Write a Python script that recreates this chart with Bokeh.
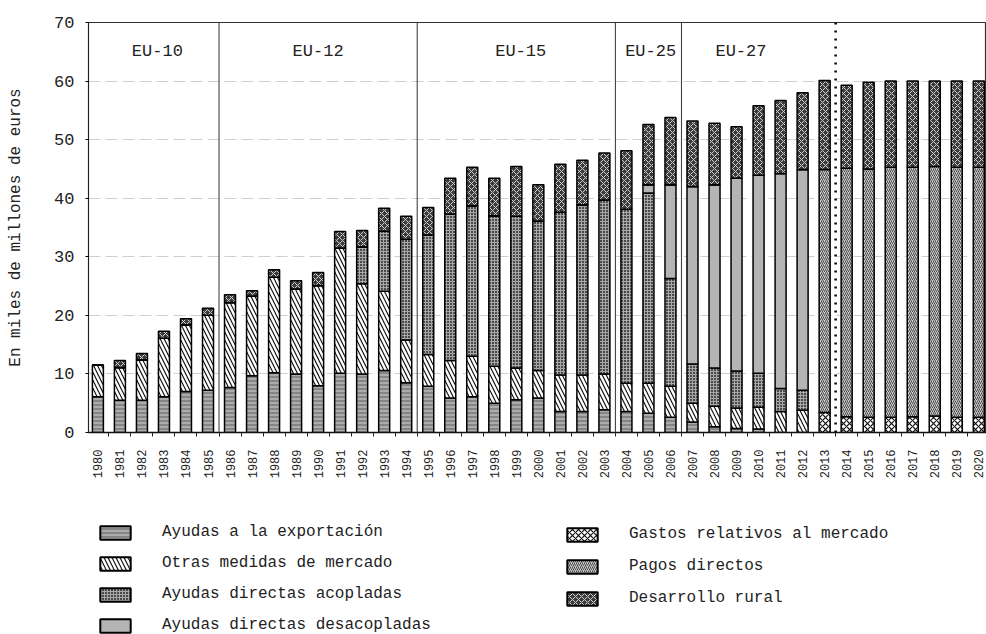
import math
from bokeh.plotting import figure
from bokeh.layouts import column
from bokeh.models import (Range1d, FixedTicker, Span, Legend, LegendItem,
                          ColumnDataSource)
from bokeh.embed import file_html
from bokeh.resources import INLINE
from bokeh.core.properties import value

# ---------------- data ----------------
years = list(range(1980, 2021))

export_aid = [6.1, 5.5, 5.5, 6.1, 7.0, 7.2, 7.7, 9.7, 10.2, 10.0, 8.0, 10.1, 10.0, 10.6,
              8.5, 7.9, 5.9, 6.1, 5.0, 5.6, 5.9, 3.6, 3.6, 3.9, 3.6, 3.3, 2.6, 1.8, 1.0,
              0.7, 0.6, 0, 0, 0, 0, 0, 0, 0, 0, 0, 0]
other_market = [5.4, 5.6, 6.9, 10.0, 11.4, 12.8, 14.5, 13.6, 16.3, 14.5, 17.1, 21.4, 15.4,
                13.5, 7.3, 5.4, 6.4, 6.9, 6.3, 5.4, 4.7, 6.2, 6.2, 6.1, 4.8, 5.1, 5.3, 3.2,
                3.5, 3.5, 3.7, 3.6, 3.8, 0, 0, 0, 0, 0, 0, 0, 0]
coupled = [0, 0, 0, 0, 0, 0, 0, 0, 0, 0, 0, 0, 6.3, 10.3, 17.2, 20.4, 25.0, 25.7, 25.7,
           25.9, 25.5, 27.8, 29.1, 29.7, 29.7, 32.5, 18.4, 6.7, 6.5, 6.3, 5.8, 3.9, 3.4,
           0, 0, 0, 0, 0, 0, 0, 0]
decoupled = [0] * 25 + [1.4, 16.0, 30.3, 31.3, 32.9, 33.8, 36.7, 37.7] + [0] * 8
market_exp = [0] * 33 + [3.4, 2.7, 2.6, 2.6, 2.7, 2.8, 2.6, 2.6]
direct_pay = [0] * 33 + [41.5, 42.4, 42.4, 42.7, 42.6, 42.6, 42.7, 42.7]
rural_dev = [0, 1.2, 1.1, 1.2, 1.0, 1.2, 1.3, 0.9, 1.3, 1.4, 2.2, 2.8, 2.8, 3.9, 3.9, 4.7,
             6.1, 6.6, 6.4, 8.5, 6.2, 8.2, 7.6, 8.0, 10.0, 10.3, 11.5, 11.2, 10.5, 8.8,
             11.9, 12.5, 13.1, 15.2, 14.2, 14.8, 14.7, 14.7, 14.6, 14.7, 14.7]

series_names = ["Ayudas a la exportación", "Otras medidas de mercado",
                "Ayudas directas acopladas", "Ayudas directas desacopladas",
                "Gastos relativos al mercado", "Pagos directos", "Desarrollo rural"]

period_labels = ["EU-10", "EU-12", "EU-15", "EU-25", "EU-27"]
period_label_x = [1982.7, 1990.0, 1999.2, 2005.1, 2009.2]
period_label_y = [65.1] * 5
period_bounds = [1985.5, 1994.5, 2003.5, 2006.5]
projection_start = 2013.5
y_ticks = [0, 10, 20, 30, 40, 50, 60, 70]

FONT = "Liberation Mono"

# ---------------- styles ----------------
keys = ["e", "o", "a", "d", "g", "pd", "r"]
fills = ["#858585", "white", "#4a4a4a", "#b4b4b4", "white", "#c9c9c9", "#3c3c3c"]
hatches = ["horizontal_line", "left_diagonal_line", "cross", None, "diagonal_cross",
           "right_diagonal_line", "diagonal_cross"]
hcolors = ["#d2d2d2", "#111111", "#a8a8a8", "#000000", "#111111", "#4a4a4a", "#cfcfcf"]
hscales = [4.0, 8.0, 3.0, 1.0, 6.0, 4.0, 6.0]
hweights = [1.0, 1.2, 1.0, 1.0, 1.2, 1.0, 1.0]

# ---------------- main chart ----------------
p = figure(width=986, height=490, output_backend="svg", toolbar_location=None,
           x_range=Range1d(1979.5735, 2020.35), y_range=Range1d(0, 70),
           min_border_left=88, min_border_right=0, min_border_top=22,
           min_border_bottom=58)
p.background_fill_color = "white"
p.border_fill_color = "white"
p.outline_line_color = "#333333"
p.outline_line_width = 1.2

src = ColumnDataSource(dict(year=years, e=export_aid, o=other_market, a=coupled,
                            d=decoupled, g=market_exp, pd=direct_pay, r=rural_dev))

renderers = p.vbar_stack(keys, x="year", width=0.5, source=src,
                         fill_color=fills, hatch_pattern=hatches, hatch_color=hcolors,
                         hatch_scale=hscales, hatch_weight=hweights,
                         line_color="black", line_width=1.5)

for b in period_bounds:
    p.add_layout(Span(location=b, dimension="height", line_color="#444444",
                      line_width=1.1))
p.add_layout(Span(location=projection_start, dimension="height", line_color="black",
                  line_width=2.5, line_dash="2 6"))

lab_src = ColumnDataSource(dict(x=period_label_x, y=period_label_y, t=period_labels))
p.text(x="x", y="y", text="t", source=lab_src, text_align="center",
       text_baseline="middle", text_font=value(FONT), text_font_size="17px",
       text_color="#222222")

p.yaxis.ticker = FixedTicker(ticks=y_ticks)
p.yaxis.axis_label = "En miles de millones de euros"
p.yaxis.axis_label_text_font = FONT
p.yaxis.axis_label_text_font_size = "16px"
p.yaxis.axis_label_text_font_style = "normal"
p.yaxis.axis_label_text_color = "#222222"
p.yaxis.axis_label_standoff = 26
p.yaxis.major_label_text_font = FONT
p.yaxis.major_label_text_font_size = "17px"
p.yaxis.major_label_text_color = "#222222"
p.yaxis.major_tick_out = 3
p.yaxis.major_tick_in = 0
p.yaxis.major_label_standoff = 11
p.yaxis.minor_tick_line_color = None
p.yaxis.axis_line_color = "#222222"

p.xaxis.ticker = FixedTicker(ticks=years, minor_ticks=[y - 0.5 for y in years] + [2020.5])
p.xaxis.major_tick_line_color = None
p.xaxis.major_tick_out = 4
p.xaxis.minor_tick_out = 4
p.xaxis.minor_tick_in = 0
p.xaxis.minor_tick_line_color = "#222222"
p.xaxis.major_label_standoff = 13
p.xaxis.major_label_orientation = math.pi / 2
p.xaxis.major_label_text_font = FONT
p.xaxis.major_label_text_font_size = "12px"
p.xaxis.major_label_text_color = "#222222"
p.xaxis.axis_line_color = "#111111"
p.xaxis.axis_line_width = 1.5

p.xgrid.visible = False
p.ygrid.grid_line_color = "#cfcfcf"
p.ygrid.grid_line_dash = "12 5"
p.ygrid.grid_line_width = 1

# ---------------- legend panel ----------------
lf = figure(width=986, height=144, output_backend="svg", toolbar_location=None,
            x_range=Range1d(0, 1), y_range=Range1d(0, 1),
            x_axis_location=None, y_axis_location=None, min_border=0)
lf.outline_line_color = None
lf.grid.visible = False
lf.background_fill_color = "white"
lf.border_fill_color = "white"

# one sample per series, placed outside the visible range, so that the legend
# can draw its swatch
swatch_x = [5.0]
swatch_top = [-2.0]
swatch_bottom = [-3.0]
swatches = []
for i in range(len(keys)):
    r = lf.vbar(x=swatch_x, top=swatch_top, bottom=swatch_bottom, width=0.5,
                fill_color=fills[i], hatch_pattern=hatches[i], hatch_color=hcolors[i],
                hatch_scale=hscales[i], hatch_weight=hweights[i],
                line_color="black", line_width=2)
    swatches.append(r)


def make_legend(idx, loc, spacing):
    items = [LegendItem(label=series_names[i], renderers=[swatches[i]]) for i in idx]
    return Legend(items=items, location=loc, orientation="vertical",
                  glyph_width=38, glyph_height=17, label_standoff=28, label_height=17,
                  spacing=spacing, padding=0, margin=0,
                  label_text_font=FONT, label_text_font_size="16px",
                  label_text_color="#222222",
                  border_line_alpha=0, background_fill_alpha=0)


lf.add_layout(make_legend([0, 1, 2, 3], (8, 0), 13), "center")
lf.add_layout(make_legend([4, 5, 6], (475, 27), 14), "center")

layout = column(p, lf, spacing=0)
open("out.html", "w").write(file_html(layout, INLINE))
